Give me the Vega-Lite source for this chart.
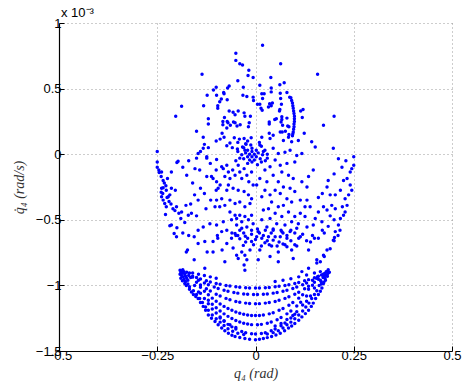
{
 "$schema": "https://vega.github.io/schema/vega-lite/v6.json",
 "width": 393, "height": 328,
 "autosize": {"type": "none"},
 "padding": {"left": 59, "top": 23, "right": 14, "bottom": 41},
 "background": "white",
 "title": {"text": "x 10⁻³", "anchor": "start", "frame": "group", "offset": -3, "dx": 2, "font": "Liberation Sans", "fontSize": 13, "fontWeight": "normal", "color": "black"},
 "data": {"values": [
{"q":-0.05,"v":0.77},{"q":-0.05,"v":0.715},{"q":-0.04,"v":0.69},{"q":-0.033,"v":0.68},{"q":-0.017,"v":0.64},{"q":-0.019,"v":0.6},{"q":-0.006,"v":0.585},{"q":-0.136,"v":0.61},{"q":-0.045,"v":0.56},{"q":-0.1,"v":0.51},{"q":-0.107,"v":0.49},{"q":-0.071,"v":0.505},{"q":-0.067,"v":0.52},{"q":-0.031,"v":0.51},{"q":-0.123,"v":0.45},{"q":-0.099,"v":0.45},{"q":-0.081,"v":0.47},{"q":-0.08,"v":0.46},{"q":-0.087,"v":0.42},{"q":-0.072,"v":0.415},{"q":-0.032,"v":0.45},{"q":-0.022,"v":0.44},{"q":-0.006,"v":0.435},{"q":-0.005,"v":0.41},{"q":-0.091,"v":0.4},{"q":-0.096,"v":0.37},{"q":-0.096,"v":0.35},{"q":-0.188,"v":0.365},{"q":-0.132,"v":0.37},{"q":-0.203,"v":0.29},{"q":-0.067,"v":0.33},{"q":-0.057,"v":0.32},{"q":-0.052,"v":0.3},{"q":-0.044,"v":0.33},{"q":-0.029,"v":0.315},{"q":-0.027,"v":0.29},{"q":-0.013,"v":0.29},{"q":-0.079,"v":0.28},{"q":-0.072,"v":0.25},{"q":-0.083,"v":0.25},{"q":-0.083,"v":0.225},{"q":-0.07,"v":0.24},{"q":-0.056,"v":0.245},{"q":-0.052,"v":0.24},{"q":-0.12,"v":0.27},{"q":-0.12,"v":0.23},{"q":-0.064,"v":0.22},{"q":-0.039,"v":0.225},{"q":-0.047,"v":0.215},{"q":-0.016,"v":0.24},{"q":-0.018,"v":0.21},{"q":-0.073,"v":0.2},{"q":-0.15,"v":0.175},{"q":-0.085,"v":0.16},
{"q":0.018,"v":0.83},{"q":0.064,"v":0.69},{"q":0.158,"v":0.61},{"q":0.039,"v":0.585},{"q":0.011,"v":0.525},{"q":0.062,"v":0.53},{"q":0.073,"v":0.545},{"q":0.04,"v":0.505},{"q":0.04,"v":0.475},{"q":0.016,"v":0.46},{"q":0.022,"v":0.46},{"q":0.063,"v":0.465},{"q":0.08,"v":0.47},{"q":0.087,"v":0.435},{"q":0.018,"v":0.425},{"q":0.064,"v":0.425},{"q":0.005,"v":0.38},{"q":0.011,"v":0.38},{"q":0.036,"v":0.385},{"q":0.043,"v":0.39},{"q":0.04,"v":0.37},{"q":0.033,"v":0.36},{"q":0.014,"v":0.35},{"q":0.017,"v":0.335},{"q":0.066,"v":0.38},{"q":0.062,"v":0.34},{"q":0.061,"v":0.33},{"q":0.115,"v":0.33},{"q":0.121,"v":0.34},{"q":0.119,"v":0.28},{"q":0.2,"v":0.29},{"q":0.035,"v":0.245},{"q":0.035,"v":0.23},{"q":0.049,"v":0.265},{"q":0.053,"v":0.27},{"q":0.067,"v":0.285},{"q":0.067,"v":0.265},{"q":0.065,"v":0.245},{"q":0.08,"v":0.275},{"q":0.082,"v":0.215},{"q":0.085,"v":0.21},{"q":0.069,"v":0.22},{"q":0.173,"v":0.22},{"q":0.063,"v":0.17},{"q":0.068,"v":0.17},{"q":0.076,"v":0.175},{"q":0.085,"v":0.15},{"q":0.124,"v":0.16},{"q":0.035,"v":0.16},
{"q":0.09,"v":0.43},{"q":0.092,"v":0.41},{"q":0.094,"v":0.39},{"q":0.095,"v":0.37},{"q":0.096,"v":0.35},{"q":0.097,"v":0.33},{"q":0.098,"v":0.31},{"q":0.099,"v":0.29},{"q":0.099,"v":0.27},{"q":0.099,"v":0.25},{"q":0.098,"v":0.23},{"q":0.098,"v":0.21},{"q":0.097,"v":0.19},{"q":0.096,"v":0.17},{"q":0.095,"v":0.155},{"q":0.094,"v":0.14},
{"q":-0.133,"v":0.13},{"q":-0.13,"v":0.075},{"q":-0.133,"v":0.045},{"q":-0.1,"v":0.1},{"q":-0.09,"v":0.115},{"q":-0.08,"v":0.13},{"q":-0.065,"v":0.085},{"q":-0.054,"v":0.125},{"q":-0.045,"v":0.09},{"q":-0.041,"v":0.115},{"q":-0.029,"v":0.12},{"q":-0.02,"v":0.1},{"q":-0.011,"v":0.125},{"q":-0.073,"v":0.065},{"q":-0.059,"v":0.05},{"q":-0.046,"v":0.04},{"q":-0.033,"v":0.055},{"q":-0.024,"v":0.075},{"q":-0.027,"v":0.03},{"q":-0.146,"v":0.005},{"q":-0.124,"v":-0.02},{"q":-0.124,"v":-0.03},{"q":-0.099,"v":-0.04},{"q":-0.25,"v":0.02},{"q":-0.25,"v":-0.06},{"q":-0.25,"v":-0.1},{"q":-0.246,"v":-0.12},{"q":-0.239,"v":-0.135},{"q":-0.235,"v":-0.2},{"q":-0.239,"v":-0.26},{"q":-0.239,"v":-0.325},{"q":-0.235,"v":-0.35},{"q":-0.231,"v":-0.375},{"q":-0.227,"v":-0.4},{"q":-0.225,"v":-0.33},{"q":-0.218,"v":-0.31},{"q":-0.229,"v":-0.46},{"q":-0.214,"v":-0.54},{"q":-0.218,"v":-0.545},{"q":-0.207,"v":-0.605},{"q":-0.197,"v":-0.053},{"q":-0.2,"v":-0.063},{"q":-0.214,"v":-0.135},{"q":-0.224,"v":-0.185},{"q":-0.235,"v":-0.255},{"q":-0.214,"v":-0.26},{"q":-0.204,"v":-0.275},{"q":-0.227,"v":-0.275},{"q":-0.222,"v":-0.325},{"q":-0.21,"v":-0.415},{"q":-0.201,"v":-0.4},{"q":-0.188,"v":-0.44},{"q":-0.177,"v":-0.39},{"q":-0.171,"v":-0.465},{"q":-0.163,"v":-0.45},{"q":-0.15,"v":-0.47},{"q":-0.154,"v":-0.11},{"q":-0.142,"v":-0.12},{"q":-0.124,"v":-0.17},{"q":-0.112,"v":-0.17},{"q":-0.146,"v":-0.35},{"q":-0.126,"v":-0.415},{"q":-0.114,"v":-0.35},{"q":-0.099,"v":-0.35},{"q":-0.103,"v":-0.4},{"q":-0.091,"v":-0.4},{"q":-0.078,"v":-0.39},{"q":-0.086,"v":-0.34},{"q":-0.1,"v":-0.275},{"q":-0.095,"v":-0.26},{"q":-0.09,"v":-0.235},{"q":-0.099,"v":-0.21},{"q":-0.108,"v":-0.185},{"q":-0.078,"v":-0.17},{"q":-0.082,"v":-0.11},{"q":-0.086,"v":-0.095},{"q":-0.073,"v":-0.085},{"q":-0.069,"v":-0.135},{"q":-0.065,"v":-0.185},{"q":-0.058,"v":-0.12},{"q":-0.052,"v":-0.16},{"q":-0.044,"v":-0.085},{"q":-0.04,"v":-0.135},{"q":-0.035,"v":-0.185},{"q":-0.029,"v":-0.11},{"q":-0.022,"v":-0.16},{"q":-0.017,"v":-0.21},{"q":-0.01,"v":-0.135},{"q":-0.006,"v":-0.235},{"q":-0.069,"v":-0.235},{"q":-0.073,"v":-0.275},{"q":-0.057,"v":-0.26},{"q":-0.044,"v":-0.275},{"q":-0.029,"v":-0.285},{"q":-0.018,"v":-0.31},{"q":-0.01,"v":-0.34},{"q":-0.065,"v":-0.35},{"q":-0.052,"v":-0.375},{"q":-0.04,"v":-0.365},{"q":-0.027,"v":-0.4},{"q":-0.014,"v":-0.375},{"q":-0.065,"v":-0.44},{"q":-0.052,"v":-0.465},{"q":-0.061,"v":-0.5},{"q":-0.048,"v":-0.49},{"q":-0.04,"v":-0.465},{"q":-0.035,"v":-0.515},{"q":-0.027,"v":-0.475},{"q":-0.018,"v":-0.5},{"q":-0.01,"v":-0.465},{"q":-0.048,"v":-0.54},{"q":-0.035,"v":-0.565},{"q":-0.022,"v":-0.555},{"q":-0.01,"v":-0.58},{"q":-0.006,"v":-0.53},{"q":-0.082,"v":-0.515},{"q":-0.099,"v":-0.54},{"q":-0.116,"v":-0.53},{"q":-0.133,"v":-0.555},{"q":-0.146,"v":-0.58},{"q":-0.073,"v":-0.58},{"q":-0.086,"v":-0.59},{"q":-0.052,"v":-0.605},
{"q":-0.201,"v":-0.63},{"q":-0.173,"v":-0.73},{"q":-0.176,"v":-0.745},{"q":-0.156,"v":-0.805},{"q":-0.156,"v":-0.63},{"q":-0.146,"v":-0.68},{"q":-0.129,"v":-0.665},{"q":-0.123,"v":-0.745},{"q":-0.108,"v":-0.745},{"q":-0.108,"v":-0.665},{"q":-0.096,"v":-0.64},{"q":-0.085,"v":-0.73},{"q":-0.073,"v":-0.68},{"q":-0.078,"v":-0.82},{"q":-0.129,"v":-0.87},{"q":-0.061,"v":-0.64},{"q":-0.057,"v":-0.715},{"q":-0.048,"v":-0.77},{"q":-0.044,"v":-0.795},{"q":-0.035,"v":-0.745},{"q":-0.031,"v":-0.695},{"q":-0.027,"v":-0.77},{"q":-0.022,"v":-0.805},{"q":-0.014,"v":-0.73},{"q":-0.01,"v":-0.665},{"q":-0.029,"v":-0.845},{"q":-0.027,"v":-0.885},{"q":-0.097,"v":-0.62},{"q":-0.05,"v":-0.62},{"q":-0.026,"v":-0.625},{"q":-0.04,"v":-0.645},
{"q":0.016,"v":0.13},{"q":0.037,"v":0.12},{"q":0.045,"v":0.145},{"q":0.071,"v":0.105},{"q":0.084,"v":0.13},{"q":0.092,"v":0.095},{"q":0.109,"v":0.105},{"q":0.143,"v":0.095},{"q":0.152,"v":0.055},{"q":0.198,"v":0.045},{"q":0.25,"v":-0.02},{"q":0.211,"v":-0.035},{"q":0.011,"v":0.07},{"q":0.024,"v":0.03},{"q":0.045,"v":0.045},{"q":0.058,"v":0.005},{"q":0.075,"v":0.015},{"q":0.088,"v":0.03},{"q":0.105,"v":-0.01},{"q":0.118,"v":0.005},{"q":0.1,"v":-0.06},{"q":0.05,"v":-0.045},{"q":0.063,"v":-0.085},{"q":0.08,"v":-0.07},{"q":0.037,"v":-0.095},{"q":0.024,"v":-0.12},{"q":0.045,"v":-0.16},{"q":0.067,"v":-0.135},{"q":0.084,"v":-0.16},{"q":0.096,"v":-0.185},{"q":0.118,"v":-0.21},{"q":0.131,"v":-0.25},{"q":0.147,"v":-0.12},{"q":0.135,"v":-0.17},{"q":0.182,"v":-0.25},{"q":0.19,"v":-0.31},{"q":0.203,"v":-0.31},{"q":0.216,"v":-0.275},{"q":0.224,"v":-0.2},{"q":0.233,"v":-0.185},{"q":0.241,"v":-0.135},{"q":0.245,"v":-0.11},{"q":0.25,"v":-0.085},{"q":0.241,"v":-0.235},{"q":0.245,"v":-0.275},{"q":0.237,"v":-0.31},{"q":0.228,"v":-0.34},{"q":0.233,"v":-0.39},{"q":0.221,"v":-0.4},{"q":0.228,"v":-0.44},{"q":0.224,"v":-0.465},{"q":0.216,"v":-0.49},{"q":0.211,"v":-0.54},{"q":0.203,"v":-0.59},{"q":0.173,"v":-0.4},{"q":0.182,"v":-0.425},{"q":0.194,"v":-0.39},{"q":0.203,"v":-0.415},{"q":0.16,"v":-0.44},{"q":0.139,"v":-0.4},{"q":0.126,"v":-0.4},{"q":0.114,"v":-0.45},{"q":0.126,"v":-0.475},{"q":0.152,"v":-0.49},{"q":0.169,"v":-0.515},{"q":0.147,"v":-0.54},{"q":0.131,"v":-0.555},{"q":0.109,"v":-0.53},{"q":0.1,"v":-0.475},{"q":0.105,"v":-0.565},{"q":0.084,"v":-0.44},{"q":0.092,"v":-0.365},{"q":0.114,"v":-0.35},{"q":0.131,"v":-0.35},{"q":0.08,"v":-0.34},{"q":0.063,"v":-0.3},{"q":0.05,"v":-0.275},{"q":0.037,"v":-0.31},{"q":0.024,"v":-0.275},{"q":0.016,"v":-0.325},{"q":0.041,"v":-0.365},{"q":0.058,"v":-0.4},{"q":0.071,"v":-0.39},{"q":0.033,"v":-0.415},{"q":0.02,"v":-0.425},{"q":0.05,"v":-0.45},{"q":0.067,"v":-0.475},{"q":0.037,"v":-0.49},{"q":0.016,"v":-0.5},{"q":0.054,"v":-0.53},{"q":0.075,"v":-0.54},{"q":0.092,"v":-0.515},{"q":0.029,"v":-0.555},{"q":0.045,"v":-0.58},{"q":0.067,"v":-0.59},{"q":0.088,"v":-0.59},{"q":0.007,"v":-0.59},{"q":0.011,"v":-0.185},{"q":0.003,"v":-0.235},{"q":0.029,"v":-0.21},{"q":0.058,"v":-0.21},{"q":0.071,"v":-0.25},{"q":0.088,"v":-0.26},{"q":0.1,"v":-0.285},
{"q":0.003,"v":-0.63},{"q":0.016,"v":-0.64},{"q":0.033,"v":-0.63},{"q":0.045,"v":-0.655},{"q":0.063,"v":-0.63},{"q":0.08,"v":-0.64},{"q":0.114,"v":-0.63},{"q":0.135,"v":-0.73},{"q":0.1,"v":-0.69},{"q":0.08,"v":-0.705},{"q":0.092,"v":-0.73},{"q":0.058,"v":-0.745},{"q":0.037,"v":-0.78},{"q":0.011,"v":-0.73},{"q":0.007,"v":-0.805},{"q":0.058,"v":-0.82},{"q":0.096,"v":-0.795},{"q":0.156,"v":-0.805},{"q":0.156,"v":-0.83},{"q":0.173,"v":-0.77},{"q":0.182,"v":-0.73},{"q":0.198,"v":-0.655},{"q":0.201,"v":-0.635},{"q":0.135,"v":-0.87},{"q":0.118,"v":-0.895},{"q":0.07,"v":-0.685},{"q":0.024,"v":-0.675},{"q":0.041,"v":-0.7},
{"q":-0.009,"v":-0.02},{"q":-0.015,"v":0},{"q":-0.003,"v":0},{"q":-0.02,"v":-0.02},{"q":0.002,"v":-0.02},{"q":-0.009,"v":0.02},{"q":-0.009,"v":-0.06},{"q":-0.015,"v":-0.045},{"q":-0.003,"v":-0.045},{"q":-0.025,"v":0.01},{"q":0.007,"v":0.01},{"q":-0.03,"v":-0.035},{"q":0.012,"v":-0.035},{"q":-0.009,"v":0.045},{"q":-0.02,"v":0.03},{"q":0.002,"v":0.03},{"q":-0.035,"v":-0.005},{"q":0.018,"v":-0.005},{"q":-0.03,"v":0.05},{"q":-0.025,"v":0.08},{"q":0.015,"v":0.06},{"q":0.02,"v":0.02},{"q":-0.04,"v":-0.03},{"q":0.025,"v":-0.05},{"q":-0.02,"v":-0.07},{"q":0.005,"v":-0.08},{"q":0.03,"v":0},{"q":-0.045,"v":0.02},{"q":0.01,"v":0.09},{"q":-0.012,"v":0.07},{"q":0.03,"v":-0.03},{"q":-0.05,"v":-0.05},{"q":0.015,"v":-0.06},
{"q":-0.06,"v":-0.6},{"q":-0.045,"v":-0.62},{"q":-0.03,"v":-0.6},{"q":-0.02,"v":-0.64},{"q":-0.01,"v":-0.61},{"q":0,"v":-0.65},{"q":0.01,"v":-0.6},{"q":0.02,"v":-0.62},{"q":0.03,"v":-0.66},{"q":0.04,"v":-0.6},{"q":0.05,"v":-0.63},{"q":0.06,"v":-0.67},{"q":0.07,"v":-0.6},{"q":0.08,"v":-0.62},{"q":0.09,"v":-0.66},{"q":0.1,"v":-0.6},{"q":0.11,"v":-0.64},{"q":0.12,"v":-0.61},{"q":0.13,"v":-0.66},{"q":-0.005,"v":-0.69},{"q":0.015,"v":-0.7},{"q":0.035,"v":-0.69},{"q":0.055,"v":-0.7},{"q":0.075,"v":-0.69},{"q":-0.025,"v":-0.67},{"q":0.025,"v":-0.58},{"q":0.045,"v":-0.57},{"q":0.065,"v":-0.58},{"q":-0.04,"v":-0.58},{"q":0.005,"v":-0.57},{"q":0.09,"v":-0.58},{"q":0.105,"v":-0.7},{"q":0.145,"v":-0.62},{"q":0.16,"v":-0.64},{"q":0.175,"v":-0.6},
{"q":-0.245,"v":-0.14},{"q":-0.24,"v":-0.17},{"q":-0.232,"v":-0.22},{"q":-0.228,"v":-0.24},{"q":-0.24,"v":-0.29},{"q":-0.236,"v":-0.3},{"q":-0.22,"v":-0.36},{"q":-0.215,"v":-0.38},{"q":-0.205,"v":-0.43},{"q":-0.195,"v":-0.45},{"q":-0.19,"v":-0.49},{"q":-0.18,"v":-0.52},{"q":-0.2,"v":-0.56},{"q":-0.185,"v":-0.6},{"q":-0.17,"v":-0.62},{"q":-0.165,"v":-0.38},{"q":-0.155,"v":-0.31},{"q":-0.14,"v":-0.26},{"q":-0.13,"v":-0.3},{"q":-0.16,"v":-0.22},{"q":-0.175,"v":-0.16},{"q":-0.185,"v":-0.1},{"q":-0.17,"v":-0.05},{"q":-0.15,"v":-0.03},{"q":-0.14,"v":0.02},{"q":-0.115,"v":-0.07},{"q":-0.1,"v":-0.12},{"q":-0.12,"v":0.05},
{"q":0.23,"v":-0.05},{"q":0.22,"v":-0.1},{"q":0.2,"v":-0.15},{"q":0.185,"v":-0.2},{"q":0.17,"v":-0.3},{"q":0.16,"v":-0.33},{"q":0.19,"v":-0.47},{"q":0.2,"v":-0.5},{"q":0.185,"v":-0.55},{"q":0.17,"v":-0.58},{"q":0.15,"v":-0.64},{"q":0.14,"v":-0.67},{"q":0.215,"v":-0.58},{"q":0.21,"v":-0.62},{"q":0.2,"v":-0.66},{"q":0.19,"v":-0.72},{"q":0.175,"v":-0.78},{"q":0.165,"v":-0.82},
{"q":-0.192,"v":-0.885},{"q":-0.188,"v":-0.89},{"q":-0.185,"v":-0.88},{"q":-0.19,"v":-0.9},{"q":-0.186,"v":-0.905},{"q":-0.182,"v":-0.895},{"q":-0.192,"v":-0.915},{"q":-0.188,"v":-0.925},{"q":-0.18,"v":-0.915},{"q":-0.184,"v":-0.935},{"q":-0.178,"v":-0.93},{"q":-0.19,"v":-0.945},{"q":-0.182,"v":-0.955},{"q":-0.175,"v":-0.945},{"q":-0.186,"v":-0.965},{"q":-0.178,"v":-0.97},{"q":-0.172,"v":-0.96},{"q":-0.18,"v":-0.985},{"q":-0.172,"v":-0.99},{"q":-0.176,"v":-1},{"q":-0.168,"v":-1.01},{"q":-0.17,"v":-0.925},{"q":-0.165,"v":-0.94},{"q":-0.175,"v":-0.9},{"q":-0.168,"v":-0.905},
{"q":-0.168,"v":-1.03},{"q":-0.163,"v":-1.05},{"q":-0.158,"v":-1.07},{"q":-0.152,"v":-1.085},{"q":-0.146,"v":-1.1},{"q":-0.14,"v":-1.13},{"q":-0.133,"v":-1.16},{"q":-0.127,"v":-1.19},{"q":-0.12,"v":-1.225},{"q":-0.112,"v":-1.25},{"q":-0.103,"v":-1.275},{"q":-0.095,"v":-1.3},{"q":-0.086,"v":-1.325},{"q":-0.078,"v":-1.345},{"q":-0.069,"v":-1.365},{"q":-0.06,"v":-1.38},{"q":-0.052,"v":-1.39},{"q":-0.04,"v":-1.397},{"q":-0.027,"v":-1.405},{"q":-0.015,"v":-1.41},{"q":0,"v":-1.415},{"q":0.01,"v":-1.41},{"q":0.02,"v":-1.405},{"q":0.03,"v":-1.398},{"q":0.041,"v":-1.39},{"q":0.052,"v":-1.378},{"q":0.063,"v":-1.365},{"q":0.074,"v":-1.345},{"q":0.084,"v":-1.325},{"q":0.092,"v":-1.31},{"q":0.1,"v":-1.29},{"q":0.11,"v":-1.265},{"q":0.118,"v":-1.24},{"q":0.127,"v":-1.215},{"q":0.135,"v":-1.19},{"q":0.142,"v":-1.16},{"q":0.147,"v":-1.135},{"q":0.153,"v":-1.1},{"q":0.16,"v":-1.07},{"q":0.165,"v":-1.045},{"q":0.169,"v":-1.02},{"q":0.173,"v":-0.985},{"q":0.177,"v":-0.945},{"q":0.18,"v":-0.92},{"q":0.182,"v":-0.895},
{"q":-0.158,"v":-1.04},{"q":-0.15,"v":-1.07},{"q":-0.142,"v":-1.1},{"q":-0.135,"v":-1.13},{"q":-0.127,"v":-1.165},{"q":-0.12,"v":-1.19},{"q":-0.11,"v":-1.225},{"q":-0.1,"v":-1.255},{"q":-0.09,"v":-1.28},{"q":-0.08,"v":-1.305},{"q":-0.07,"v":-1.33},{"q":-0.058,"v":-1.35},{"q":-0.045,"v":-1.365},{"q":-0.03,"v":-1.375},{"q":0.03,"v":-1.37},{"q":0.045,"v":-1.36},{"q":0.058,"v":-1.345},{"q":0.07,"v":-1.325},{"q":0.08,"v":-1.3},{"q":0.09,"v":-1.28},{"q":0.1,"v":-1.255},{"q":0.11,"v":-1.225},{"q":0.12,"v":-1.195},{"q":0.128,"v":-1.165},{"q":0.136,"v":-1.135},{"q":0.143,"v":-1.1},{"q":0.15,"v":-1.07},{"q":0.156,"v":-1.04},{"q":0.162,"v":-1},{"q":0.167,"v":-0.97},{"q":0.172,"v":-0.94},{"q":0.176,"v":-0.91},
{"q":0.185,"v":-0.88},{"q":0.188,"v":-0.9},{"q":0.184,"v":-0.91},{"q":0.18,"v":-0.895},{"q":0.176,"v":-0.925},{"q":0.172,"v":-0.915},{"q":0.183,"v":-0.93},{"q":0.178,"v":-0.96},{"q":0.174,"v":-0.975},{"q":0.168,"v":-0.99},{"q":0.165,"v":-0.96},{"q":0.16,"v":-0.93},
{"q":-0.16,"v":-0.93},{"q":-0.15,"v":-0.94},{"q":-0.14,"v":-0.951},{"q":-0.125,"v":-0.965},{"q":-0.115,"v":-0.974},{"q":-0.1,"v":-0.985},{"q":-0.09,"v":-0.992},{"q":-0.075,"v":-1},{"q":-0.065,"v":-1.005},{"q":-0.05,"v":-1.011},{"q":-0.04,"v":-1.014},{"q":-0.025,"v":-1.018},{"q":-0.015,"v":-1.019},{"q":0,"v":-1.02},{"q":0.01,"v":-1.02},{"q":0.025,"v":-1.018},{"q":0.035,"v":-1.016},{"q":0.05,"v":-1.011},{"q":0.06,"v":-1.007},{"q":0.075,"v":-1},{"q":0.085,"v":-0.995},{"q":0.1,"v":-0.985},{"q":0.11,"v":-0.978},{"q":0.125,"v":-0.965},{"q":0.135,"v":-0.956},{"q":0.15,"v":-0.941},{"q":0.158,"v":-0.933},{"q":0.168,"v":-0.921},
{"q":0.05,"v":-0.97},{"q":0.07,"v":-0.96},{"q":0.09,"v":-0.95},{"q":0.11,"v":-0.935},{"q":0.13,"v":-0.92},{"q":0.15,"v":-0.905},{"q":0.165,"v":-0.895},{"q":-0.16,"v":-0.905},{"q":-0.145,"v":-0.915},{"q":-0.13,"v":-0.925},{"q":-0.115,"v":-0.935},{"q":-0.1,"v":-0.945},
{"q":-0.16,"v":-0.937},{"q":-0.145,"v":-0.961},{"q":-0.13,"v":-0.982},{"q":-0.12,"v":-0.995},{"q":-0.105,"v":-1.013},{"q":-0.095,"v":-1.023},{"q":-0.08,"v":-1.037},{"q":-0.07,"v":-1.045},{"q":-0.055,"v":-1.054},{"q":-0.045,"v":-1.059},{"q":-0.03,"v":-1.065},{"q":-0.02,"v":-1.068},{"q":-0.005,"v":-1.07},{"q":0.005,"v":-1.07},{"q":0.02,"v":-1.068},{"q":0.03,"v":-1.065},{"q":0.045,"v":-1.059},{"q":0.055,"v":-1.054},{"q":0.07,"v":-1.045},{"q":0.08,"v":-1.037},{"q":0.095,"v":-1.023},{"q":0.105,"v":-1.013},{"q":0.12,"v":-0.995},{"q":0.13,"v":-0.982},{"q":0.145,"v":-0.961},{"q":0.155,"v":-0.945},
{"q":-0.15,"v":-0.976},{"q":-0.14,"v":-0.997},{"q":-0.125,"v":-1.026},{"q":-0.115,"v":-1.043},{"q":-0.1,"v":-1.067},{"q":-0.09,"v":-1.081},{"q":-0.075,"v":-1.099},{"q":-0.065,"v":-1.109},{"q":-0.05,"v":-1.122},{"q":-0.04,"v":-1.128},{"q":-0.025,"v":-1.135},{"q":-0.015,"v":-1.138},{"q":0,"v":-1.14},{"q":0.01,"v":-1.139},{"q":0.025,"v":-1.135},{"q":0.035,"v":-1.131},{"q":0.05,"v":-1.122},{"q":0.06,"v":-1.114},{"q":0.075,"v":-1.099},{"q":0.085,"v":-1.087},{"q":0.1,"v":-1.067},{"q":0.11,"v":-1.052},{"q":0.125,"v":-1.026},{"q":0.135,"v":-1.007},{"q":0.15,"v":-0.976},{"q":0.16,"v":-0.953},
{"q":-0.14,"v":-1.014},{"q":-0.13,"v":-1.044},{"q":-0.12,"v":-1.072},{"q":-0.11,"v":-1.097},{"q":-0.1,"v":-1.12},{"q":-0.09,"v":-1.141},{"q":-0.08,"v":-1.16},{"q":-0.07,"v":-1.176},{"q":-0.06,"v":-1.19},{"q":-0.05,"v":-1.203},{"q":-0.04,"v":-1.212},{"q":-0.03,"v":-1.22},{"q":-0.02,"v":-1.226},{"q":-0.01,"v":-1.229},{"q":0,"v":-1.23},{"q":0.01,"v":-1.229},{"q":0.02,"v":-1.226},{"q":0.035,"v":-1.217},{"q":0.045,"v":-1.208},{"q":0.06,"v":-1.19},{"q":0.07,"v":-1.176},{"q":0.085,"v":-1.151},{"q":0.095,"v":-1.131},{"q":0.11,"v":-1.097},{"q":0.12,"v":-1.072},{"q":0.135,"v":-1.03},{"q":0.145,"v":-0.999},
{"q":-0.12,"v":-1.113},{"q":-0.11,"v":-1.143},{"q":-0.1,"v":-1.17},{"q":-0.09,"v":-1.195},{"q":-0.08,"v":-1.217},{"q":-0.07,"v":-1.236},{"q":-0.06,"v":-1.253},{"q":-0.05,"v":-1.268},{"q":-0.04,"v":-1.279},{"q":-0.03,"v":-1.288},{"q":-0.02,"v":-1.295},{"q":-0.01,"v":-1.299},{"q":0.005,"v":-1.3},{"q":0.015,"v":-1.297},{"q":0.03,"v":-1.288},{"q":0.04,"v":-1.279},{"q":0.055,"v":-1.261},{"q":0.065,"v":-1.245},{"q":0.08,"v":-1.217},{"q":0.09,"v":-1.195},{"q":0.105,"v":-1.157},{"q":0.115,"v":-1.128},{"q":0.13,"v":-1.08},
{"q":-0.09,"v":-1.249},{"q":-0.08,"v":-1.274},{"q":-0.07,"v":-1.297},{"q":-0.06,"v":-1.316},{"q":-0.05,"v":-1.333},{"q":-0.035,"v":-1.352},{"q":-0.025,"v":-1.361},{"q":-0.01,"v":-1.369},{"q":0,"v":-1.37},{"q":0.015,"v":-1.367},{"q":0.025,"v":-1.361},{"q":0.04,"v":-1.346},{"q":0.05,"v":-1.333},{"q":0.065,"v":-1.307},{"q":0.075,"v":-1.286},{"q":0.09,"v":-1.249},{"q":0.1,"v":-1.22},
{"q":-0.13,"v":-1.1},{"q":-0.12,"v":-1.14},{"q":-0.11,"v":-1.18},{"q":-0.1,"v":-1.21},{"q":-0.09,"v":-1.24},{"q":-0.08,"v":-1.27},{"q":-0.065,"v":-1.3},{"q":-0.05,"v":-1.32},{"q":0.05,"v":-1.31},{"q":0.065,"v":-1.29},{"q":0.08,"v":-1.26},{"q":0.095,"v":-1.23},{"q":0.105,"v":-1.2},{"q":0.12,"v":-1.15},{"q":0.13,"v":-1.12},{"q":0.14,"v":-1.08},{"q":0.15,"v":-1.02},{"q":-0.145,"v":-1.05},{"q":-0.155,"v":-1},{"q":-0.14,"v":-1.06}
 ]},
 "mark": {"type": "point", "filled": true, "size": 12, "color": "#0000ff", "opacity": 1},
 "encoding": {
  "x": {"field": "q", "type": "quantitative",
        "scale": {"domain": [-0.5, 0.5], "nice": false, "zero": false},
        "axis": {"values": [-0.5, -0.25, 0, 0.25, 0.5], "format": ".2~f", "title": "q₄ (rad)", "titlePadding": 4}},
  "y": {"field": "v", "type": "quantitative",
        "scale": {"domain": [-1.5, 1], "nice": false, "zero": false},
        "axis": {"values": [-1.5, -1, -0.5, 0, 0.5, 1], "format": ".1~f", "title": "q̇₄ (rad/s)", "titlePadding": 9}}
 },
 "config": {
  "view": {"stroke": null},
  "axis": {"domainColor": "black", "domainWidth": 1.2, "tickColor": "black", "tickSize": -5, "tickWidth": 1,
           "grid": true, "gridColor": "#9a9a9a", "gridDash": [1, 3], "gridWidth": 1,
           "labelFont": "Liberation Sans", "labelFontSize": 13, "labelColor": "black", "labelPadding": 3,
           "labelOverlap": false, "labelFlush": false,
           "titleFont": "Liberation Serif", "titleFontStyle": "italic", "titleFontWeight": "normal", "titleFontSize": 14, "titleColor": "#333333"}
 }
}
